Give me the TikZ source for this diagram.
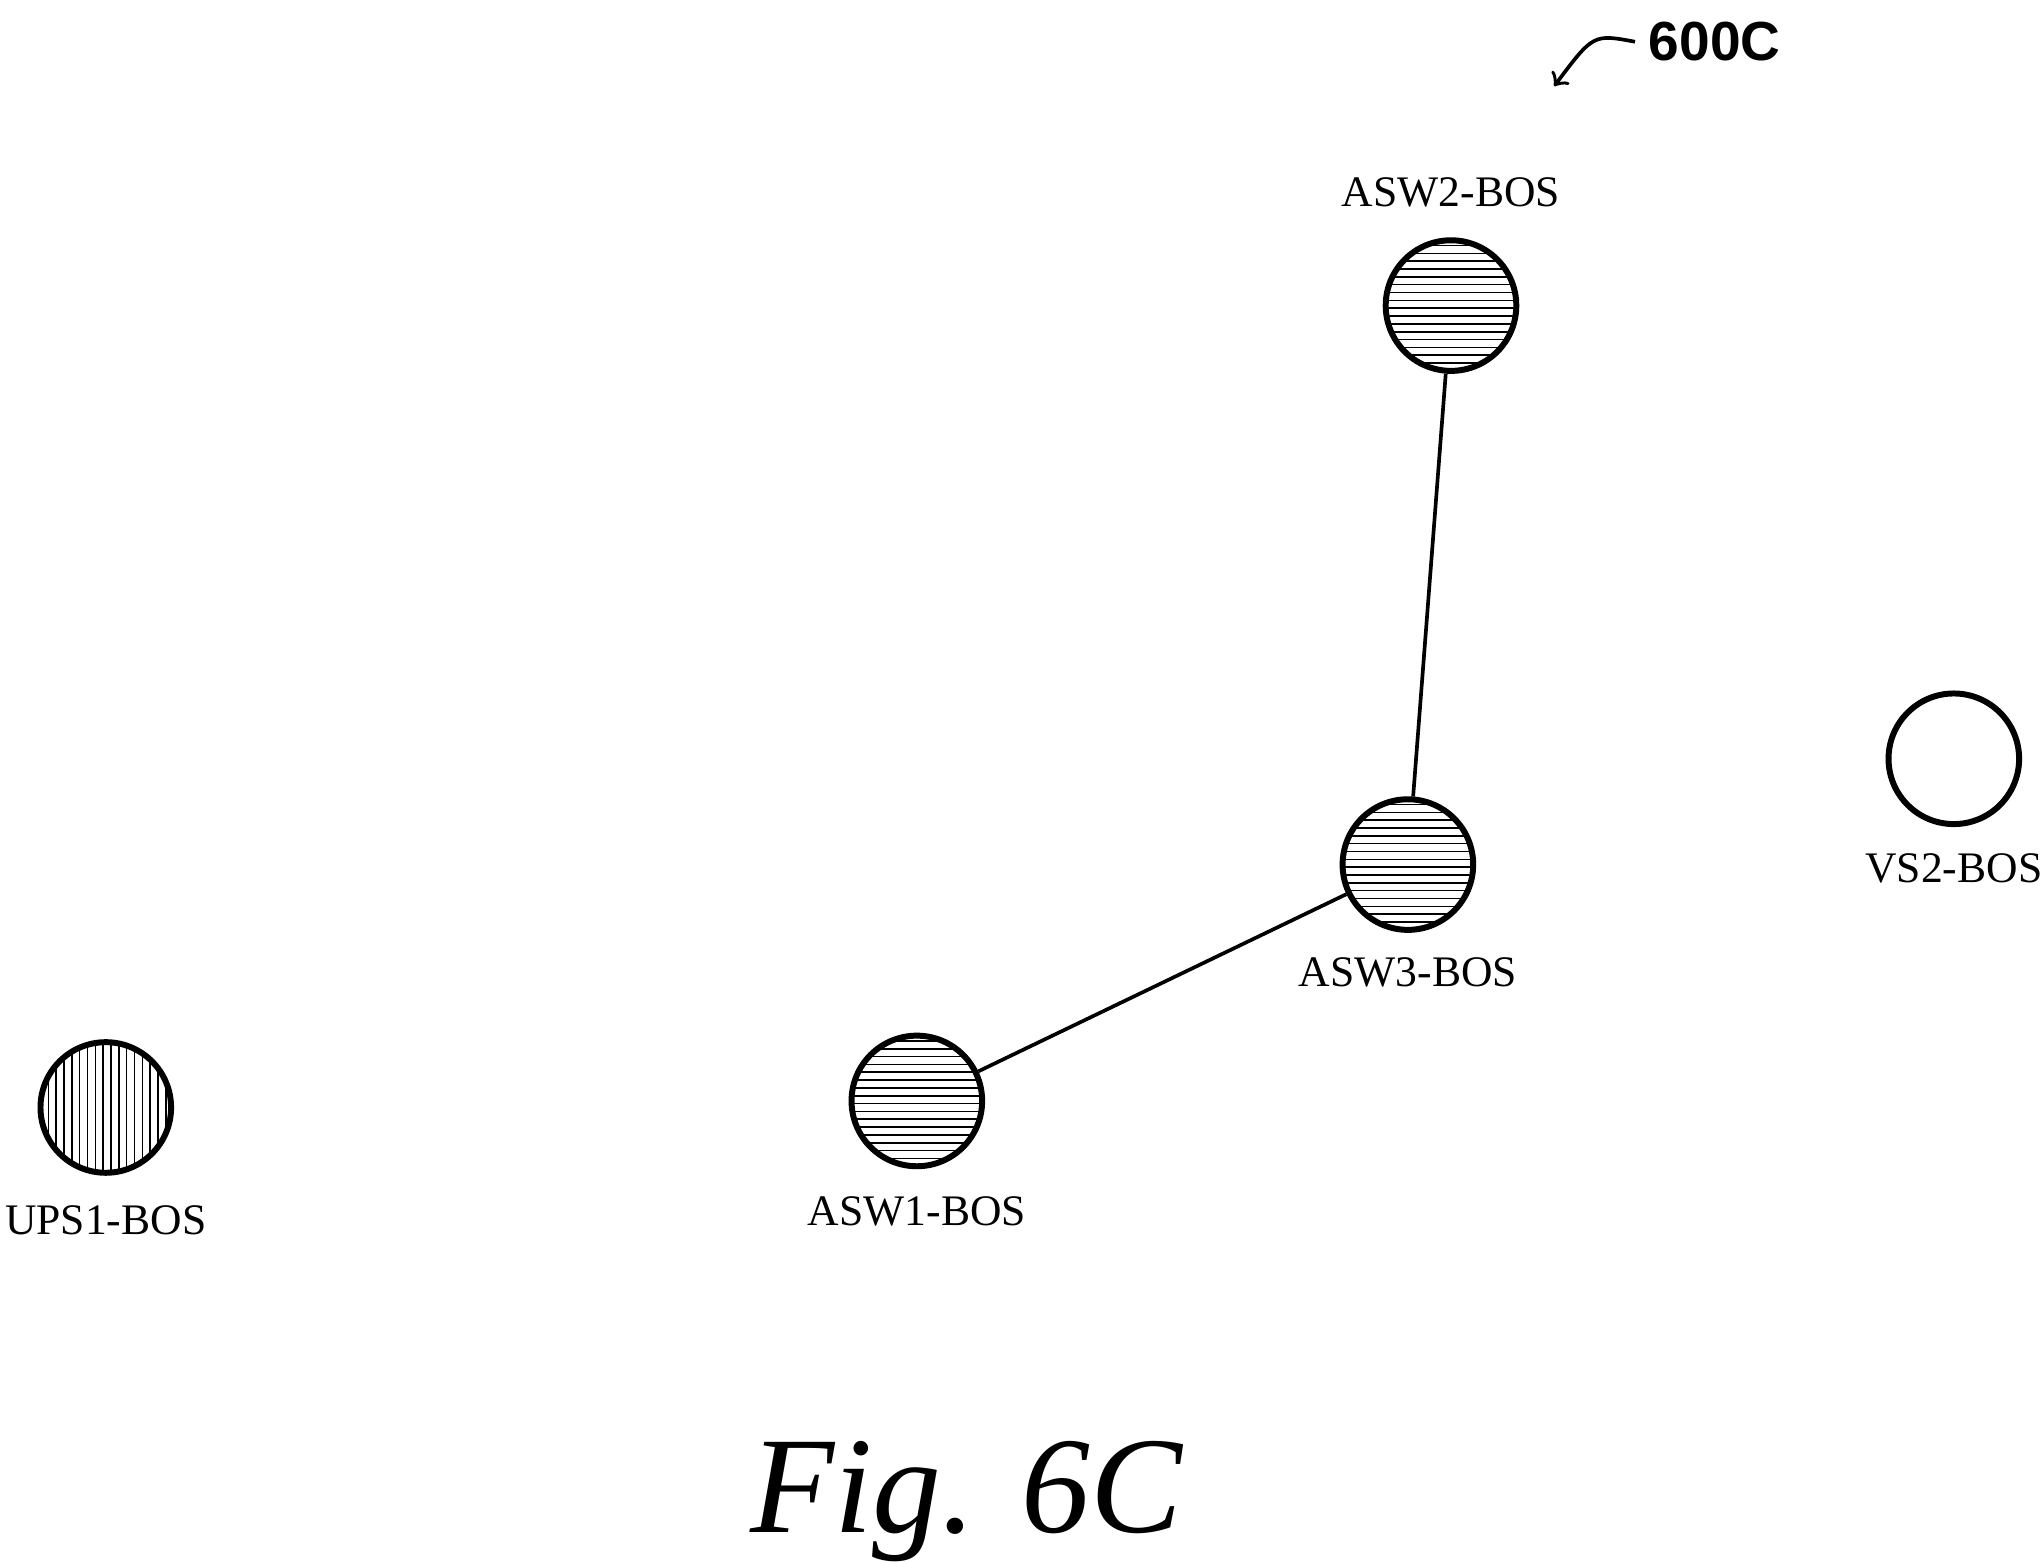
\documentclass[tikz,border=0pt]{standalone}
\usepackage{fontspec}
\setmainfont{Liberation Serif}
\newfontfamily\labelsans{Liberation Sans}
\usetikzlibrary{positioning}
\tikzset{
  dev/.style={circle,draw,line width=1.3pt,minimum size=1cm,inner sep=0pt},
  hlines/.style={dev,path picture={
     \foreach \y in {-0.5,-0.44,...,0.5}
       \draw[line width=0.35pt] ([yshift=\y cm]path picture bounding box.west) -- ++(1.1,0);}},
  vlines/.style={dev,path picture={
     \foreach \x in {-0.5,-0.44,...,0.5}
       \draw[line width=0.35pt] ([xshift=\x cm]path picture bounding box.south) -- ++(0,1.1);}},
  devlabel/.style={font=\fontsize{9.5}{11}\selectfont,inner sep=0pt}
}
\begin{document}
\begin{tikzpicture}
   \useasboundingbox (0,0) rectangle (15.62,11.96);

   \node[hlines] (asw2) at (11.11,9.62) {};
   \node[hlines] (asw3) at (10.78,5.34) {};
   \node[hlines] (asw1) at (7.02,3.53) {};
   \node[vlines] (ups1) at (0.81,3.48) {};
   \node[dev]    (vs2)  at (14.96,6.15) {};

   \node[devlabel,above=0.22cm of asw2] {ASW2-BOS};
   \node[devlabel,below=0.18cm of asw3] {ASW3-BOS};
   \node[devlabel,below=0.2cm of asw1] {ASW1-BOS};
   \node[devlabel,below=0.22cm of ups1] {UPS1-BOS};
   \node[devlabel,below=0.2cm of vs2] {VS2-BOS};

   \draw[line width=0.8pt] (asw2) -- (asw3);
   \draw[line width=0.8pt] (asw3) -- (asw1);

   % figure reference
   \node[font=\labelsans\bfseries\fontsize{12}{14}\selectfont,inner sep=0pt] (ref) at (13.13,11.64) {600C};
   \draw[->,line width=0.8pt] ([xshift=-0.1cm]ref.west) .. controls (12.2,11.7) .. (11.9,11.3);

   \node[font=\itshape\fontsize{30}{34}\selectfont] (fig) at (7.4,0.46) {Fig. 6C};
\end{tikzpicture}
\end{document}
